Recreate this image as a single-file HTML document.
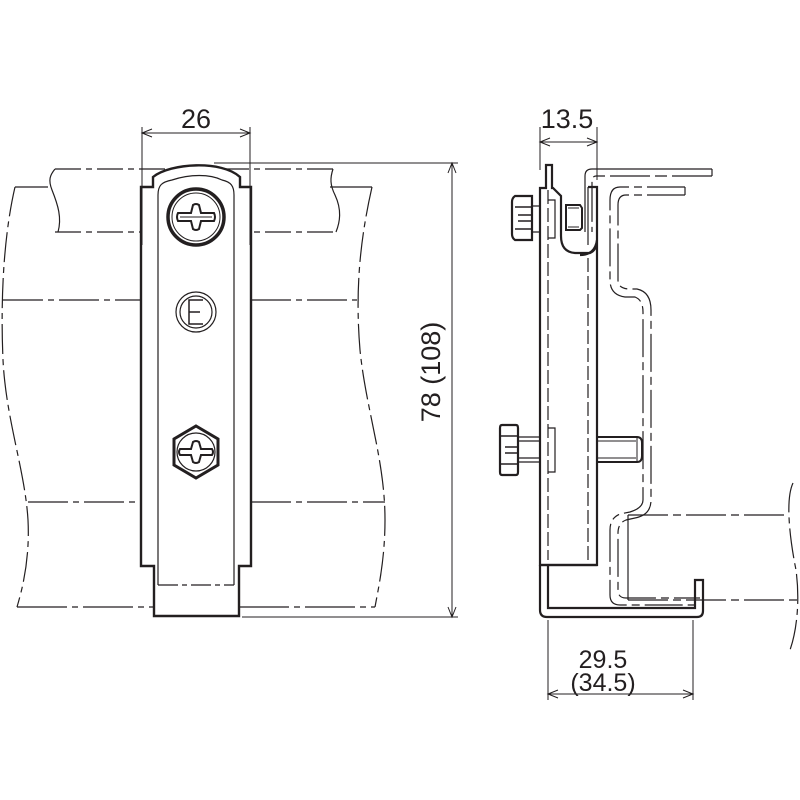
<!DOCTYPE html>
<html><head><meta charset="utf-8"><style>
html,body{margin:0;padding:0;background:#fff;}
svg{display:block;}
text{font-family:"Liberation Sans",sans-serif;fill:#231f20;}
</style></head><body>
<svg width="800" height="800" viewBox="0 0 800 800" xmlns="http://www.w3.org/2000/svg">
<g fill="none" stroke="#231f20" stroke-width="1.2">
<!-- LEFT VIEW pipe -->
<path d="M55,169 L333,169" stroke-dasharray="26,5,6,5"/>
<path d="M55,169 C50,175 48,180 52,190 C58,205 62,218 58,232"/>
<path d="M333,169 C330,178 330,185 335,195 C342,210 340,222 336,232"/>
<path d="M55,232 L333,232" stroke-dasharray="26,5,6,5"/>
<path d="M15,187 L48,187 M330,187 L372,187"/>
<path d="M15,187 C5,230 0,290 3,360 C6,420 25,470 28,520 C30,560 22,590 17,607" stroke-dasharray="30,5,6,5"/>
<path d="M372,187 C360,240 355,290 360,350 C366,410 385,460 385,520 C385,560 378,590 375,607" stroke-dasharray="30,5,6,5"/>
<path d="M3,300 L141,300 M251,300 L357,300" stroke-dasharray="40,5,6,5"/>
<path d="M28,502 L141,502 M251,502 L385,502" stroke-dasharray="40,5,6,5"/>
<path d="M17,607 L154,607 M239,607 L375,607" stroke-dasharray="50,5,6,5"/>
<!-- strap -->
<path d="M154,616 L154,566 L141,566 L141,187 L153,187 L153,177 C170,163 222,160 240,177 L240,187 L251,187 L251,566 L239,566 L239,616 Z" stroke-width="2.4" fill="#fff"/>
<path d="M158,585 L158,195 C158,185 162,182 172,180 C190,174 210,174 222,180 C231,182 234,186 234,195 L234,585" />
<path d="M158,585 L234,585" stroke-dasharray="20,4,5,4"/>
<!-- screw -->
<circle cx="196" cy="217" r="28" stroke-width="3.5"/>
<circle cx="196" cy="217" r="24" stroke-width="1"/>
<path d="M178,213 L191,213 L193,205 Q196,203 199,205 L201,213 L214,213 Q216,217 214,221 L201,221 L199,229 Q196,231 193,229 L191,221 L178,221 Q176,217 178,213 Z" stroke-width="2"/>
<path d="M180,217 L212,217" stroke-width="1"/>
<!-- E -->
<circle cx="196" cy="312" r="20"/>
<circle cx="196" cy="312" r="16"/>
<path d="M203,300 L189,300 L189,324 L203,324 M189,312 L200,312" stroke-width="1.5"/>
<!-- hex -->
<path d="M196,426 L218,439 L218,465 L196,478 L174,465 L174,439 Z" stroke-width="3"/>
<circle cx="196" cy="452" r="19"/>
<path d="M180,449 L191,449 L193,442 Q196,440 199,442 L201,449 L212,449 Q214,452 212,455 L201,455 L199,462 Q196,464 193,462 L191,455 L180,455 Q178,452 180,449 Z" stroke-width="2"/>
<!-- dims left -->
<path d="M142,127 L142,245 M250,127 L250,245 M142,133 L250,133" stroke-width="1"/>
<path d="M152,129 L142,133 L152,137 M240,129 L250,133 L240,137" stroke-width="1"/>
<path d="M214,163 L458,163 M242,617 L458,617 M452,163 L452,617" stroke-width="1"/>
<path d="M448,173 L452,163 L456,173 M448,607 L452,617 L456,607" stroke-width="1"/>

<!-- RIGHT VIEW -->
<path d="M540,127 L540,170 M597,127 L597,180 M540,142 L597,142" stroke-width="1"/>
<path d="M550,138 L540,142 L550,146 M587,138 L597,142 L587,146" stroke-width="1"/>
<!-- rail -->
<path d="M712,169 L592,169 Q585,169 585,176 L585,232" stroke-width="1.2"/>
<path d="M712,176 L596,176 Q592,176 592,182 L592,232" stroke-width="1.2" stroke-dasharray="40,5,12,5"/>
<path d="M712,169 L712,176"/>
<path d="M685,187 L620,187 Q610,187 610,200 L610,280 Q610,295 625,297 L635,297 Q643,300 643,312 L643,500 Q643,508 630,512 L620,514 Q610,518 610,530 L610,595 Q610,605 620,605 L700,605" stroke-dasharray="38,5,8,5"/>
<path d="M685,195 L626,195 Q618,195 618,205 L618,280 Q618,289 630,289 L637,289 Q651,292 651,310 L651,500 Q651,515 635,518 L626,520 Q618,523 618,533 L618,590 Q618,598 626,598 L700,598" stroke-dasharray="38,5,8,5"/>
<path d="M685,187 L685,195"/>
<!-- pipe right -->
<path d="M628,515 L785,515 M628,600 L800,600" stroke-dasharray="40,5,8,5"/>
<path d="M628,515 L628,600"/>
<path d="M793,483 C785,500 790,540 796,570 C800,600 797,630 790,650" stroke-dasharray="30,5,6,5"/>
<!-- plate -->
<path d="M540,565 L540,188 L546,188 L546,165 L552,165 L552,188 L553,188 L561,196 L561,236 Q561,252 575,253 L590,253 Q597,250 597,240 L597,565 Z" stroke-width="2.2" fill="#fff"/>
<path d="M540,565 L597,565" stroke-width="2.2"/>
<path d="M548,190 L548,560 M588,258 L588,560" stroke-dasharray="14,4"/>
<!-- top clip -->
<path d="M588,187 L597,187 L597,240 Q595,255 580,255" stroke-width="2.2"/>
<path d="M588,187 L588,245" stroke-width="1.2"/>
<!-- top bolt -->
<path d="M515,196 L532,196 L532,240 L515,240 Q512,238 512,234 L512,202 Q512,198 515,196 Z" stroke-width="2.2" fill="#fff"/>
<path d="M515,207 L532,207 M515,229 L532,229 M518,215 L532,215 L532,221 L518,221" stroke-width="1.5"/>
<path d="M532,206 L540,206 M532,232 L540,232" stroke-width="1.3"/>
<path d="M566,205 L580,205 L582,208 L582,228 L580,230 L566,230 Z" stroke-width="2" fill="#fff"/>
<path d="M568,208 L579,208 M568,227 L579,227" stroke-width="1"/>
<path d="M548,200 L555,200 L555,238 L548,238" stroke-width="1.2"/>
<!-- lower bolt -->
<path d="M502,425 L516,425 Q518,425 518,428 L518,472 Q518,475 516,475 L502,475 Q500,475 500,472 L500,428 Q500,425 502,425 Z" stroke-width="2.2" fill="#fff"/>
<path d="M500,436 L518,436 M500,464 L518,464 M505,447 L518,447 L518,453 L505,453" stroke-width="1.5"/>
<path d="M518,437 L540,437 M518,462 L540,462 M518,441 L540,441 M518,458 L540,458" stroke-width="1.2"/>
<path d="M548,428 L555,428 L555,472 L548,472" stroke-width="1.2"/>
<path d="M597,437 L637,437 Q642,437 642,443 L642,456 Q642,462 637,462 L597,462" stroke-width="2"/>
<path d="M597,441 L636,441 M597,458 L636,458 M637,437 L637,462" stroke-width="1"/>
<!-- bottom L -->
<path d="M540,565 L540,610 Q540,617 547,617 L697,617 Q703,617 703,611 L703,580 L695,580 L695,608 L548,608 L548,565" stroke-width="2.2"/>
<!-- bottom dims -->
<path d="M548,620 L548,700 M693,620 L693,700 M548,694 L693,694" stroke-width="1"/>
<path d="M558,690 L548,694 L558,698 M683,690 L693,694 L683,698" stroke-width="1"/>
</g>
<text x="196" y="128" font-size="27" text-anchor="middle">26</text>
<text x="567" y="128" font-size="27" text-anchor="middle">13.5</text>
<text x="603" y="668" font-size="25" text-anchor="middle">29.5</text>
<text x="603" y="691" font-size="25" text-anchor="middle">(34.5)</text>
<text transform="translate(440,372) rotate(-90)" font-size="27" text-anchor="middle">78 (108)</text>
</svg>
</body></html>
